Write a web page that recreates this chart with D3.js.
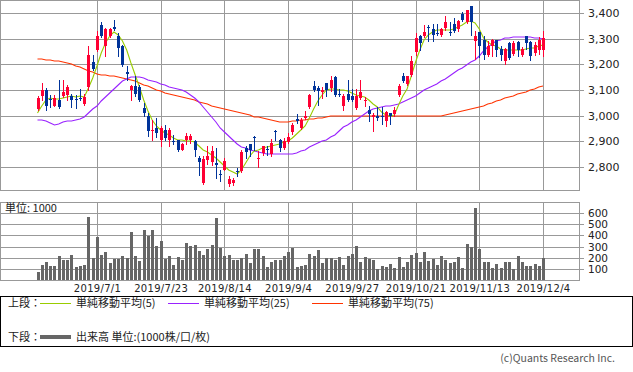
<!DOCTYPE html>
<html>
<head>
<meta charset="utf-8">
<script src="https://d3js.org/d3.v7.min.js"></script>
<title>株価チャート</title>
<style>
  body { margin:0; background:#fff; }
  svg { display:block; font-family:"DejaVu Sans", sans-serif; }
  .grid { stroke:#999; stroke-width:1; shape-rendering:crispEdges; }
  .frame { fill:none; stroke:#999; stroke-width:1; shape-rendering:crispEdges; }
  .jp { font-family:"Noto Sans CJK JP", sans-serif; }
</style>
</head>
<body>
<div id="chart"></div>
<script>
// trading days shown on the chart
const dates = [
 "2019/6/11","2019/6/12","2019/6/13","2019/6/14","2019/6/17","2019/6/18","2019/6/19","2019/6/20","2019/6/21","2019/6/24","2019/6/25","2019/6/26","2019/6/27","2019/6/28",
 "2019/7/1","2019/7/2","2019/7/3","2019/7/4","2019/7/5","2019/7/8","2019/7/9","2019/7/10","2019/7/11","2019/7/12","2019/7/16","2019/7/17","2019/7/18","2019/7/19","2019/7/22","2019/7/23","2019/7/24","2019/7/25","2019/7/26","2019/7/29","2019/7/30","2019/7/31",
 "2019/8/1","2019/8/2","2019/8/5","2019/8/6","2019/8/7","2019/8/8","2019/8/9","2019/8/13","2019/8/14","2019/8/15","2019/8/16","2019/8/19","2019/8/20","2019/8/21","2019/8/22","2019/8/23","2019/8/26","2019/8/27","2019/8/28","2019/8/29","2019/8/30",
 "2019/9/2","2019/9/3","2019/9/4","2019/9/5","2019/9/6","2019/9/9","2019/9/10","2019/9/11","2019/9/12","2019/9/13","2019/9/17","2019/9/18","2019/9/19","2019/9/20","2019/9/24","2019/9/25","2019/9/26","2019/9/27","2019/9/30",
 "2019/10/1","2019/10/2","2019/10/3","2019/10/4","2019/10/7","2019/10/8","2019/10/9","2019/10/10","2019/10/11","2019/10/15","2019/10/16","2019/10/17","2019/10/18","2019/10/21","2019/10/23","2019/10/24","2019/10/25","2019/10/28","2019/10/29","2019/10/30","2019/10/31",
 "2019/11/1","2019/11/5","2019/11/6","2019/11/7","2019/11/8","2019/11/11","2019/11/12","2019/11/13","2019/11/14","2019/11/15","2019/11/18","2019/11/19","2019/11/20","2019/11/21","2019/11/22","2019/11/25","2019/11/26","2019/11/27","2019/11/28","2019/11/29",
 "2019/12/2","2019/12/3","2019/12/4"
];

const opens = [
 3026,3075,3101,3064,3039,3060,3075,3082,3075,3065,
 3069,3047,3112,3208,3255,3355,3270,3309,3345,3309,
 3270,3169,3099,3117,3112,3030,3000,2939,2952,2904,
 2945,2906,2903,2906,2868,2904,2906,2900,2835,2738,
 2826,2818,2816,2772,2790,2735,2738,2785,2783,2874,
 2891,2916,2831,2855,2870,2852,2940,2906,2874,2896,
 2935,2988,2952,2991,3034,3117,3108,3091,3127,3108,
 3151,3084,3039,3086,3075,3030,3069,3057,3023,2995,
 3000,2999,2978,3010,3008,3082,3156,3125,3160,3247,
 3309,3309,3344,3338,3324,3316,3342,3327,3358,3339,
 3397,3364,3426,3290,3325,3294,3238,3270,3294,3260,
 3212,3283,3242,3286,3238,3309,3286,3244,3255,3255
];
const highs = [
 3078,3127,3108,3082,3082,3138,3140,3121,3086,3082,
 3104,3086,3273,3238,3329,3364,3342,3342,3374,3322,
 3277,3192,3121,3153,3121,3049,3010,2982,2991,2958,
 2965,2952,2926,2906,2894,2932,2930,2906,2842,2842,
 2881,2881,2874,2790,2835,2764,2757,2796,2868,2881,
 2891,2922,2861,2883,2881,2909,2943,2909,2913,2932,
 2971,3008,2991,3017,3086,3136,3114,3112,3127,3153,
 3153,3105,3086,3140,3104,3104,3140,3073,3039,3010,
 3034,3034,3017,3010,3034,3125,3166,3156,3234,3322,
 3316,3355,3355,3358,3358,3342,3390,3364,3381,3374,
 3403,3413,3429,3329,3327,3309,3290,3299,3296,3273,
 3264,3286,3290,3290,3268,3312,3290,3286,3306,3329
];
const lows = [
 3023,3062,3023,3034,3036,3031,3073,3062,3034,3030,
 3060,3043,3101,3179,3251,3306,3231,3306,3335,3231,
 3192,3140,3062,3075,3058,2997,2922,2906,2917,2881,
 2906,2881,2891,2861,2865,2891,2893,2842,2770,2735,
 2813,2809,2757,2744,2787,2727,2731,2764,2779,2835,
 2842,2868,2800,2848,2848,2844,2906,2861,2870,2894,
 2930,2971,2948,2987,3030,3095,3043,3069,3075,3095,
 3078,3075,3023,3056,3056,3026,3065,3036,2978,2939,
 2984,2969,2961,2969,3000,3075,3130,3121,3156,3238,
 3257,3306,3290,3290,3316,3312,3335,3316,3325,3329,
 3368,3361,3316,3221,3229,3221,3234,3234,3231,3216,
 3203,3221,3238,3231,3234,3260,3218,3238,3242,3234
];
const closes = [
 3069,3101,3039,3060,3069,3034,3094,3112,3060,3060,
 3065,3073,3238,3182,3312,3309,3338,3339,3339,3264,
 3199,3164,3117,3086,3062,3010,2939,2945,2932,2951,
 2913,2945,2898,2868,2891,2922,2920,2865,2819,2831,
 2842,2861,2807,2770,2822,2753,2751,2783,2857,2857,
 2865,2913,2837,2881,2866,2894,2937,2874,2900,2917,
 2965,2978,2984,3000,3082,3099,3095,3101,3101,3140,
 3079,3082,3078,3062,3060,3075,3094,3062,3008,3004,
 2991,2995,3013,2997,3023,3117,3134,3153,3212,3303,
 3283,3326,3340,3316,3320,3338,3364,3323,3329,3368,
 3371,3410,3364,3309,3270,3238,3273,3294,3257,3238,
 3260,3225,3283,3255,3260,3283,3234,3277,3294,3303
];
// volume, thousands
const volumes = [
 74,132,159,124,124,212,176,176,221,115,
 124,132,568,200,390,221,247,150,191,190,
 212,194,428,212,170,452,396,452,308,350,
 190,218,133,202,178,336,308,318,260,220,
 274,310,558,290,213,220,178,178,194,230,
 150,282,282,213,115,165,178,178,213,247,
 291,117,126,133,230,213,265,150,195,195,
 178,203,133,213,230,302,159,203,188,178,
 100,124,117,142,105,205,120,160,222,245,
 162,250,170,185,133,213,180,150,159,205,
 110,320,292,646,276,159,166,105,142,110,
 158,158,96,213,166,130,130,142,126,194
];
// moving averages
const ma5 = [
 3010,3039,3062,3068,3065,3065,3069,3073,3075,3073,
 3075,3073,3108,3147,3192,3244,3283,3309,3326,3316,
 3290,3257,3205,3160,3112,3062,3017,2984,2958,2943,
 2932,2926,2913,2906,2904,2900,2900,2896,2881,2865,
 2857,2845,2835,2818,2803,2790,2781,2774,2790,2816,
 2844,2861,2868,2873,2878,2881,2887,2891,2896,2903,
 2913,2929,2943,2961,2991,3026,3056,3082,3099,3104,
 3104,3101,3099,3095,3088,3082,3075,3073,3062,3046,
 3034,3013,3003,3000,3004,3043,3075,3104,3153,3208,
 3257,3296,3316,3326,3333,3333,3333,3333,3338,3345,
 3353,3364,3368,3361,3338,3303,3286,3277,3270,3261,
 3257,3255,3255,3255,3257,3260,3262,3264,3270,3277
];
const ma25 = [
 2984,2982,2978,2971,2965,2969,2974,2978,2981,2984,
 2988,2995,3010,3026,3039,3056,3073,3088,3104,3121,
 3134,3144,3149,3151,3151,3147,3140,3136,3131,3125,
 3118,3112,3106,3103,3099,3091,3082,3068,3052,3034,
 3013,2994,2974,2952,2935,2919,2904,2891,2878,2873,
 2868,2861,2857,2855,2852,2852,2851,2851,2851,2851,
 2851,2855,2861,2868,2877,2884,2894,2900,2905,2916,
 2926,2940,2956,2965,2975,2984,2995,3006,3019,3026,
 3030,3034,3036,3039,3043,3047,3052,3060,3068,3078,
 3088,3099,3109,3117,3125,3134,3143,3153,3166,3178,
 3186,3197,3209,3218,3234,3251,3268,3281,3290,3296,
 3301,3304,3306,3306,3306,3306,3305,3303,3301,3300
];
const ma75 = [
 3221,3219,3218,3216,3213,3212,3209,3205,3200,3195,
 3188,3182,3174,3169,3164,3160,3157,3155,3153,3152,
 3148,3144,3140,3135,3129,3121,3114,3108,3101,3095,
 3088,3084,3081,3077,3073,3069,3065,3060,3055,3049,
 3044,3039,3034,3029,3025,3022,3018,3014,3010,3006,
 3003,2996,2994,2990,2987,2983,2979,2977,2975,2974,
 2978,2981,2982,2984,2987,2988,2991,2992,2995,2997,
 3000,3000,3000,3000,3000,3000,3000,3000,3000,3000,
 3000,3000,3000,3000,3000,3000,3000,3000,3000,3000,
 3000,3000,3000,3000,3000,3000,3003,3005,3009,3013,
 3017,3021,3026,3030,3034,3039,3044,3051,3057,3062,
 3068,3071,3077,3083,3088,3094,3100,3105,3110,3117
];
const priceTicks = [2800, 2900, 3000, 3100, 3200, 3300, 3400];
const volTicks = [100, 200, 300, 400, 500, 600];
const dateTicks = ["2019/7/1","2019/7/23","2019/8/14","2019/9/4","2019/9/27","2019/10/21","2019/11/13","2019/12/4"];

const upColor = "#ff0033", downColor = "#003399";

const svg = d3.select("#chart").append("svg")
    .attr("width", 633)
    .attr("height", 372);

const x = d3.scalePoint().domain(dates).range([37.5, 543]);
const y = d3.scaleLinear().domain([2800, 3400]).rangeRound([167, 13]);
const yv = d3.scaleLinear().domain([0, 700]).rangeRound([280, 202]);
const cx = d => Math.round(x(d));

// grid - price panel
svg.append("g").selectAll("line").data(priceTicks).enter().append("line")
    .attr("class", "grid")
    .attr("x1", 0).attr("x2", 584)
    .attr("y1", d => y(d) + 0.5).attr("y2", d => y(d) + 0.5);
svg.append("g").selectAll("line").data(dateTicks).enter().append("line")
    .attr("class", "grid")
    .attr("x1", d => cx(d) + 0.5).attr("x2", d => cx(d) + 0.5)
    .attr("y1", 1).attr("y2", 190);
// grid - volume panel
svg.append("g").selectAll("line").data(volTicks).enter().append("line")
    .attr("class", "grid")
    .attr("x1", 0).attr("x2", 584)
    .attr("y1", d => yv(d) + 0.5).attr("y2", d => yv(d) + 0.5);
svg.append("g").selectAll("line").data(dateTicks).enter().append("line")
    .attr("class", "grid")
    .attr("x1", d => cx(d) + 0.5).attr("x2", d => cx(d) + 0.5)
    .attr("y1", 203).attr("y2", 280);

svg.append("rect").attr("class", "frame").attr("x", 0.5).attr("y", 0.5).attr("width", 579).attr("height", 190);
svg.append("rect").attr("class", "frame").attr("x", 0.5).attr("y", 202.5).attr("width", 579).attr("height", 78);

// right axes
const yaxis = d3.axisRight(y).tickValues(priceTicks).tickSize(0).tickPadding(8).tickFormat(d3.format(","));
const ga = svg.append("g").attr("transform", "translate(580,0)").call(yaxis);
ga.select(".domain").remove();
ga.selectAll("text").attr("font-size", 11).attr("fill", "#222").attr("font-family", "DejaVu Sans");

const vaxis = d3.axisRight(yv).tickValues(volTicks).tickSize(0).tickPadding(8);
const gv = svg.append("g").attr("transform", "translate(580,0)").call(vaxis);
gv.select(".domain").remove();
gv.selectAll("text").attr("font-size", 10.5).attr("fill", "#222").attr("font-family", "DejaVu Sans");

// date labels
const xaxis = d3.axisBottom(x).tickValues(dateTicks).tickSize(0).tickPadding(5);
const gx = svg.append("g").attr("transform", "translate(0,280)").call(xaxis);
gx.select(".domain").remove();
gx.selectAll("text").attr("font-size", 10).attr("fill", "#222").attr("font-family", "DejaVu Sans")
    .attr("letter-spacing", "0.3px");

svg.append("text").attr("class", "jp")
    .attr("x", 5).attr("y", 212)
    .attr("font-size", 11).attr("fill", "#222")
    .text("単位: 1000");

// volume bars
svg.append("g").selectAll("rect").data(dates).enter().append("rect")
    .attr("x", d => cx(d) - 1)
    .attr("y", (d, i) => yv(volumes[i]))
    .attr("width", 3)
    .attr("height", (d, i) => 280 - yv(volumes[i]))
    .attr("fill", "#666");

// moving averages
function maLine(vals, color) {
    const line = d3.line()
        .x(d => x(d[0]))
        .y(d => y(d[1]));
    svg.append("path")
        .datum(dates.map((d, i) => [d, vals[i]]))
        .attr("d", line)
        .attr("fill", "none")
        .attr("stroke", color)
        .attr("stroke-width", 1.1);
}
maLine(ma75, "#ff3300");
maLine(ma25, "#9922ff");
maLine(ma5, "#99cc00");

// candles
const candles = svg.append("g").selectAll("g").data(dates).enter().append("g");
candles.append("line")
    .attr("x1", d => cx(d) + 0.5).attr("x2", d => cx(d) + 0.5)
    .attr("y1", (d, i) => y(highs[i])).attr("y2", (d, i) => y(lows[i]) + 1)
    .attr("stroke", (d, i) => closes[i] >= opens[i] ? upColor : downColor)
    .attr("stroke-width", 1);
candles.append("rect")
    .attr("x", d => cx(d) - 1)
    .attr("y", (d, i) => y(Math.max(opens[i], closes[i])))
    .attr("width", 3)
    .attr("height", (d, i) => Math.max(1, y(Math.min(opens[i], closes[i])) - y(Math.max(opens[i], closes[i]))))
    .attr("fill", (d, i) => closes[i] >= opens[i] ? upColor : downColor);

// legend
svg.append("rect").attr("x", 0.5).attr("y", 296.5).attr("width", 632).attr("height", 50)
    .attr("fill", "none").attr("stroke", "#000").attr("shape-rendering", "crispEdges");

const leg = svg.append("g").attr("class", "jp").attr("font-size", 11).attr("fill", "#222");
leg.append("text").attr("x", 8).attr("y", 303).attr("dy", "0.35em").text("上段：");
leg.append("text").attr("x", 8).attr("y", 337).attr("dy", "0.35em").text("下段：");

const maLegend = [
    {x: 40, color: "#99cc00", label: "単純移動平均(5)"},
    {x: 168, color: "#9922ff", label: "単純移動平均(25)"},
    {x: 312, color: "#ff3300", label: "単純移動平均(75)"}
];
maLegend.forEach(m => {
    leg.append("line").attr("x1", m.x).attr("x2", m.x + 31).attr("y1", 303.5).attr("y2", 303.5)
        .attr("stroke", m.color).attr("stroke-width", 1);
    leg.append("text").attr("x", m.x + 36).attr("y", 303).attr("dy", "0.35em").text(m.label);
});
leg.append("line").attr("x1", 40).attr("x2", 71).attr("y1", 337).attr("y2", 337)
    .attr("stroke", "#666").attr("stroke-width", 4);
leg.append("text").attr("x", 76).attr("y", 337).attr("dy", "0.35em").text("出来高 単位:(1000株/口/枚)");

svg.append("text").attr("class", "jp")
    .attr("x", 615).attr("y", 358).attr("dy", "0.35em")
    .attr("text-anchor", "end")
    .attr("font-size", 10.5).attr("fill", "#555")
    .text("(c)Quants Research Inc.");
</script>
</body>
</html>
